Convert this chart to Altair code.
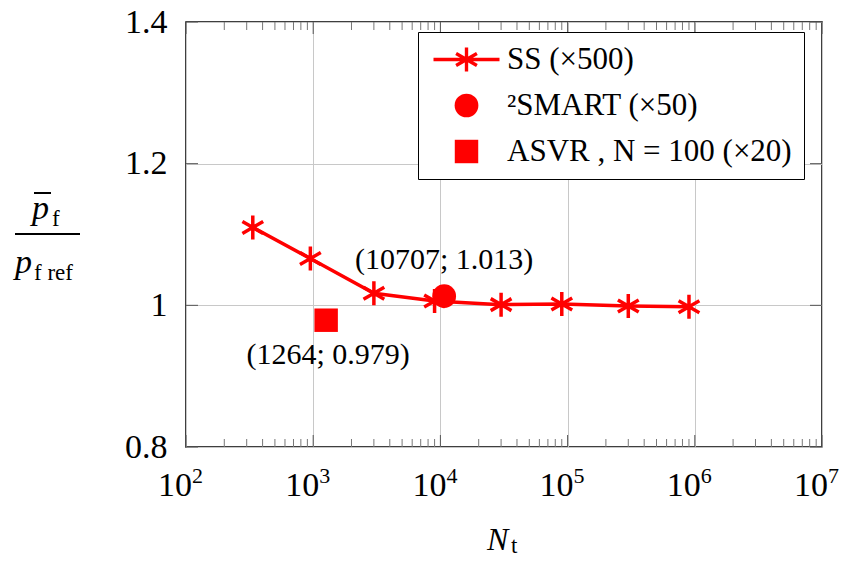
import math
import altair as alt
import pandas as pd

# ---- data ----
ss_n = [335, 950, 3000, 9000, 30000, 90000, 300000, 900000]
ss_ratio = [1.110, 1.066, 1.017, 1.006, 1.001, 1.002, 0.999, 0.998]
smart_n = [10707]
smart_ratio = [1.013]
asvr_n = [1264]
asvr_ratio = [0.979]
series_labels = ["SS (×500)", "²SMART (×50)", "ASVR , N = 100 (×20)"]
annot_smart = "(10707; 1.013)"
annot_asvr = "(1264; 0.979)"
x_ticks = [1e2, 1e3, 1e4, 1e5, 1e6, 1e7]
x_tick_exp = ["2", "3", "4", "5", "6", "7"]
y_ticks = [0.8, 1.0, 1.2, 1.4]
x_minor = [m * 10 ** k for k in range(2, 7) for m in range(2, 10)]

W, H = 636, 425
RED = "#ff0000"
FONT = "Liberation Serif"


def _bar(angle, length, hw):
    c, s = math.cos(math.radians(angle)), math.sin(math.radians(angle))
    pts = [(length * c - hw * s, length * s + hw * c), (length * c + hw * s, length * s - hw * c),
           (-length * c + hw * s, -length * s - hw * c), (-length * c - hw * s, -length * s + hw * c)]
    return "M" + "L".join(f"{x:.3f},{y:.3f}" for x, y in pts) + "Z"


STAR = "M0,-1L0,1M-0.866,-0.5L0.866,0.5M-0.866,0.5L0.866,-0.5"
STAR_FILLED = _bar(90, 1, 0.14) + _bar(30, 1, 0.14) + _bar(-30, 1, 0.14)
STAR_LINE_FILLED = _bar(0, 2.75, 0.15) + STAR_FILLED

xscale = alt.Scale(type="log", domain=[100, 1e7], nice=False)
yscale = alt.Scale(domain=[0.8, 1.4], nice=False, zero=False)
xaxis = alt.Axis(values=x_ticks, title=None, grid=True, ticks=False, domain=False, labels=False,
                 gridColor="#c8c8c8", gridWidth=1)
yaxis = alt.Axis(values=y_ticks, title=None, grid=True, ticks=False, domain=False, format="~g",
                 labelFont=FONT, labelFontSize=34, labelColor="black", labelPadding=19,
                 gridColor="#c8c8c8", gridWidth=1, labelFlush=False, labelOverlap=False)
X = alt.X("n:Q", scale=xscale, axis=xaxis)
Y = alt.Y("ratio:Q", scale=yscale, axis=yaxis)

ss_df = pd.DataFrame({"n": ss_n, "ratio": ss_ratio})
pts_df = pd.DataFrame({
    "n": smart_n + asvr_n,
    "ratio": smart_ratio + asvr_ratio,
    "series": [series_labels[1]] * len(smart_n) + [series_labels[2]] * len(asvr_n),
})

legend = alt.Legend(title=None, orient="none", legendX=232, legendY=10,
                    strokeColor="black", fillColor="white", padding=12,
                    symbolOffset=21, labelOffset=25, rowPadding=14,
                    labelFont=FONT, labelFontSize=31, labelColor="black",
                    symbolFillColor=RED, symbolStrokeColor=RED,
                    labelLimit=400)

ss_line = alt.Chart(ss_df).mark_line(color=RED, strokeWidth=3.5).encode(x=X, y=Y)
ss_pts = alt.Chart(ss_df).mark_point(shape=STAR, size=576, stroke=RED, strokeWidth=3.5,
                                     filled=False, opacity=1).encode(x=X, y=Y)
other_pts = alt.Chart(pts_df).mark_point(filled=True, opacity=1, fill=RED).encode(
    x=X, y=Y,
    shape=alt.Shape("series:N", scale=alt.Scale(domain=series_labels,
                                                range=[STAR_LINE_FILLED, "circle", "square"]),
                    legend=legend),
    size=alt.Size("series:N", scale=alt.Scale(domain=series_labels, range=[576, 550, 400]),
                  legend=legend),
)

ann1 = alt.Chart(pd.DataFrame({"n": smart_n, "ratio": smart_ratio, "t": [annot_smart]})).mark_text(
    font=FONT, fontSize=30, color="black", dy=-36, baseline="middle").encode(x=X, y=Y, text="t:N")
ann2 = alt.Chart(pd.DataFrame({"n": asvr_n, "ratio": asvr_ratio, "t": [annot_asvr]})).mark_text(
    font=FONT, fontSize=30, color="black", dy=35, dx=2, baseline="middle").encode(x=X, y=Y, text="t:N")

# x tick labels 10^k, drawn through the x scale
xlab_df = pd.DataFrame({"n": x_ticks, "b": ["10"] * len(x_ticks), "e": x_tick_exp})
xlab_base = alt.Chart(xlab_df).mark_text(font=FONT, fontSize=34, color="black", align="right",
                                         baseline="alphabetic", dx=6).encode(
    x=X, y=alt.value(H + 49), text="b:N")
xlab_exp = alt.Chart(xlab_df).mark_text(font=FONT, fontSize=22, color="black", align="left",
                                        baseline="alphabetic", dx=6).encode(
    x=X, y=alt.value(H + 36), text="e:N")

# inward ticks (pgfplots style)
minor_df = pd.DataFrame({"n": x_minor})
major_df = pd.DataFrame({"n": x_ticks})
ymaj_df = pd.DataFrame({"ratio": y_ticks})
tick_layers = [
    alt.Chart(minor_df).mark_rule(color="#777", strokeWidth=1).encode(x=X, y=alt.value(H - 8), y2=alt.value(H)),
    alt.Chart(minor_df).mark_rule(color="#777", strokeWidth=1).encode(x=X, y=alt.value(0), y2=alt.value(8)),
    alt.Chart(major_df).mark_rule(color="#555", strokeWidth=1).encode(x=X, y=alt.value(H - 12), y2=alt.value(H)),
    alt.Chart(major_df).mark_rule(color="#555", strokeWidth=1).encode(x=X, y=alt.value(0), y2=alt.value(12)),
    alt.Chart(ymaj_df).mark_rule(color="#555", strokeWidth=1).encode(y=Y, x=alt.value(0), x2=alt.value(12)),
    alt.Chart(ymaj_df).mark_rule(color="#555", strokeWidth=1).encode(y=Y, x=alt.value(W - 12), x2=alt.value(W)),
]


def label(txt, x, y, size, italic=False, align="left"):
    return alt.Chart(pd.DataFrame({"t": [txt]})).mark_text(
        font=FONT, fontSize=size, fontStyle="italic" if italic else "normal",
        color="black", align=align, baseline="alphabetic").encode(
        x=alt.value(x), y=alt.value(y), text="t:N")


def bar(x1, x2, y, w):
    return alt.Chart(pd.DataFrame({"t": [0]})).mark_rule(color="black", strokeWidth=w).encode(
        x=alt.value(x1), x2=alt.value(x2), y=alt.value(y))


title_layers = [
    # y title: p̄_f / p_f ref
    label("p", -154, 197, 34, italic=True),
    bar(-152, -135, 171, 2),
    label("f", -134, 204, 23),
    bar(-171, -106, 212, 2),
    label("p", -171, 251, 34, italic=True),
    label("f ref", -152, 258, 23),
    # x title: N_t
    label("N", 301, 528, 32, italic=True),
    label("t", 325, 531, 23),
]

chart = alt.layer(
    *tick_layers, ss_line, ss_pts, other_pts, ann1, ann2, xlab_base, xlab_exp, *title_layers
).properties(
    width=W, height=H,
    autosize=alt.AutoSizeParams(type="none"),
    padding={"left": 178, "top": 14, "right": 17, "bottom": 111},
).configure_view(stroke="black", strokeWidth=1.5)

chart.save("out.html", embed_options={"renderer": "svg", "actions": False})
